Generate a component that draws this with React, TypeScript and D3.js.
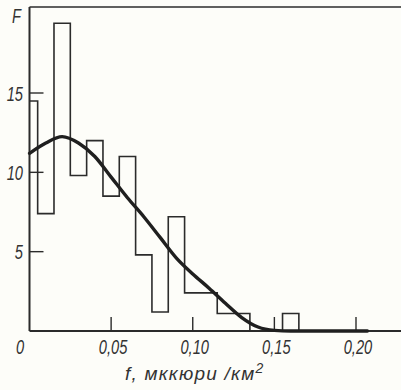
import React from 'react';
import * as d3 from 'd3';

// histogram bins (centres, width 0.01), frequency F
const binCenters = [0, 0.01, 0.02, 0.03, 0.04, 0.05, 0.06, 0.07, 0.08, 0.09, 0.10, 0.11, 0.12, 0.13, 0.14, 0.15, 0.16];
const binValues = [14.5, 7.4, 19.4, 9.8, 12.0, 8.5, 11.0, 4.8, 1.2, 7.2, 2.4, 2.4, 1.1, 1.1, 0, 0, 1.1];

// fitted curve
const curveF = [0, 0.01, 0.02, 0.03, 0.04, 0.05, 0.06, 0.07, 0.08, 0.09, 0.10, 0.11, 0.12, 0.13, 0.14, 0.15, 0.16, 0.185, 0.207];
const curveValues = [11.2, 11.85, 12.25, 11.85, 11.0, 9.7, 8.4, 7.2, 5.9, 4.6, 3.6, 2.7, 1.75, 0.85, 0.25, 0.04, 0, 0, 0];

const xTicks = [0.05, 0.10, 0.15, 0.20];
const xTickLabels = ['0,05', '0,10', '0,15', '0,20'];
const yTicks = [5, 10, 15];

const W = 401;
const H = 390;
const ink = '#2b2b2b';

function Label({ x, y, anchor = 'start', size = 21, sx = 0.7, spacing = 0, children }: any) {
  return (
    <text
      transform={`translate(${x},${y}) scale(${sx},1)`}
      textAnchor={anchor}
      fontFamily="Liberation Sans, Arial, sans-serif"
      fontStyle="italic"
      fontSize={size}
      letterSpacing={spacing}
      fill="#333"
    >
      {children}
    </text>
  );
}

export default function App() {
  const x = d3.scaleLinear().domain([0, 0.2]).range([29.5, 356]);
  const y = d3.scaleLinear().domain([0, 15]).range([331, 93]);
  const top = 7;

  // step outline of the histogram
  const steps: [number, number][] = binCenters.map((c, i) => [Math.max(0, c - 0.005), binValues[i]]);
  const last = binCenters.length - 1;
  steps.push([binCenters[last] + 0.005, binValues[last]]);
  steps.push([binCenters[last] + 0.005, 0]);
  const stepLine = d3.line<[number, number]>()
    .x(d => x(d[0]))
    .y(d => y(d[1]))
    .curve(d3.curveStepAfter);

  const line = d3.line<number>()
    .x((_, i) => x(curveF[i]))
    .y(d => y(d))
    .curve(d3.curveMonotoneX);

  return (
    <div style={{ position: 'fixed', left: 0, top: 0 }}>
      <svg width={W} height={H} style={{ display: 'block', background: '#fdfdf9' }}>
        {/* frame */}
        <line x1={x(0)} x2={W} y1={top} y2={top} stroke={ink} strokeWidth={1.6} />
        <line x1={x(0)} x2={x(0)} y1={top} y2={y(0)} stroke={ink} strokeWidth={2} />
        <line x1={x(0)} x2={W} y1={y(0)} y2={y(0)} stroke={ink} strokeWidth={2} />

        {/* histogram */}
        <path d={stepLine(steps) || ''} fill="none" stroke={ink} strokeWidth={1.6} />

        {/* ticks */}
        {xTicks.map(t => (
          <line key={t} x1={x(t)} x2={x(t)} y1={y(0)} y2={y(0) - 14} stroke={ink} strokeWidth={1.4} />
        ))}
        {yTicks.map(t => (
          <line key={t} x1={x(0)} x2={x(0) + 14} y1={y(t)} y2={y(t)} stroke={ink} strokeWidth={1.4} />
        ))}

        {/* curve */}
        <path d={line(curveValues) || ''} fill="none" stroke="#1f1f1f" strokeWidth={3.4} strokeLinecap="round" />

        {/* labels */}
        {yTicks.map(t => (
          <Label key={t} x={23} y={y(t) + 7.5} anchor="end">{t}</Label>
        ))}
        <Label x={20} y={354} anchor="middle">0</Label>
        {xTicks.map((t, i) => (
          <Label key={t} x={x(t) + 2} y={354} anchor="middle">{xTickLabels[i]}</Label>
        ))}
        <Label x={12} y={23}>F</Label>
        <Label x={125} y={380} size={19} sx={1} spacing={1.2}>
          f, мккюри /км<tspan dy={-7} fontSize={14}>2</tspan>
        </Label>
      </svg>
    </div>
  );
}
